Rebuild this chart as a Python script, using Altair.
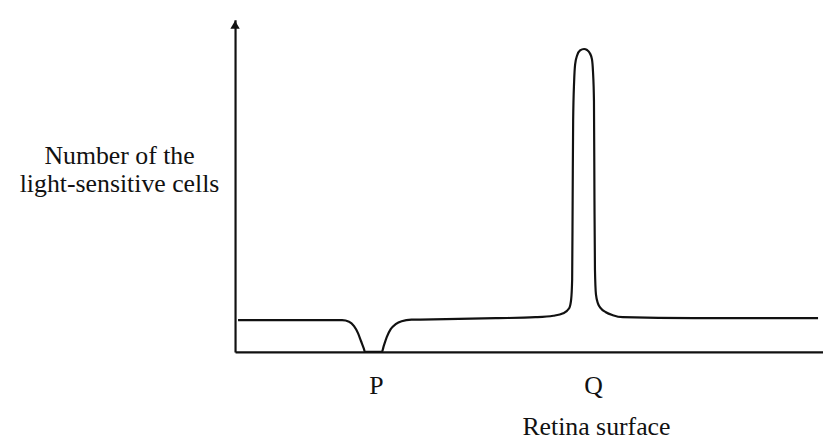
import altair as alt
import pandas as pd

# Curve (x: distance along retina surface, y: number of cells)
xs = [3, 63, 108, 115, 120, 124, 127, 130, 131, 148, 150, 153, 157, 162, 168, 178, 213, 263, 303,
      321, 331, 337, 339, 340, 340.5, 341, 342, 343, 345, 348, 352, 355, 358, 360, 361, 362,
      362.5, 363, 364, 366, 369, 374, 381, 391, 463, 543, 588]
ys = [32, 32, 32, 30.5, 26, 19, 11, 3, 0, 0, 6, 15, 23, 28, 31, 32.5, 33, 34, 35,
      36.5, 39, 44, 53, 73, 153, 233, 273, 290, 299, 304, 305.5, 304.5, 301, 295, 283, 253,
      153, 83, 58, 49, 44, 40, 37, 35, 34, 34, 34]

tick_values = [142, 361]
tick_labels = ["P", "Q"]
x_title = "Retina surface"
y_title = ["Number of the", "light-sensitive cells"]

curve = pd.DataFrame({"x": xs, "y": ys})
arrow = pd.DataFrame({"x": [0], "y": [330]})

FONT = "Liberation Serif"
FS = 26

xscale = alt.Scale(domain=[0, 593], nice=False, zero=False)
yscale = alt.Scale(domain=[0, 335], nice=False, zero=False)

label_expr = ("datum.value == %d ? '%s' : (datum.value == %d ? '%s' : '')"
              % (tick_values[0], tick_labels[0], tick_values[1], tick_labels[1]))

line = alt.Chart(curve).mark_line(color="#111111", strokeWidth=2.2, interpolate="monotone").encode(
    x=alt.X("x:Q", scale=xscale,
            axis=alt.Axis(values=tick_values, labelExpr=label_expr, ticks=False, grid=False,
                          domainColor="#111111", domainWidth=2.2,
                          labelFont=FONT, labelFontSize=FS, labelColor="#111111",
                          labelBaseline="alphabetic", labelPadding=42, labelFlush=False,
                          title=x_title, titleFont=FONT, titleFontSize=FS, titleFontWeight="normal",
                          titleColor="#111111", titleX=364, titleY=83, titleBaseline="alphabetic",
                          titleAnchor="start", titleAlign="center")),
    y=alt.Y("y:Q", scale=yscale,
            axis=alt.Axis(labels=False, ticks=False, grid=False,
                          domainColor="#111111", domainWidth=2.2,
                          title=y_title, titleAngle=0, titleFont=FONT, titleFontSize=FS,
                          titleFontWeight="normal", titleColor="#111111",
                          titleAlign="center", titleBaseline="alphabetic", titleLineHeight=28,
                          titleX=-117, titleY=145, titleAnchor="start")),
)

head = alt.Chart(arrow).mark_point(shape="triangle-up", filled=True, color="#111111",
                                   size=90, opacity=1).encode(
    x=alt.X("x:Q", scale=xscale),
    y=alt.Y("y:Q", scale=yscale),
)

chart = alt.layer(line, head).properties(
    width=593, height=335,
    padding={"left": 229, "top": 10, "right": 0, "bottom": 88},
    autosize=alt.AutoSizeParams(type="none"),
    background="white",
).configure_view(stroke="transparent")

chart.save("out.html", embed_options={"renderer": "svg", "actions": False})
